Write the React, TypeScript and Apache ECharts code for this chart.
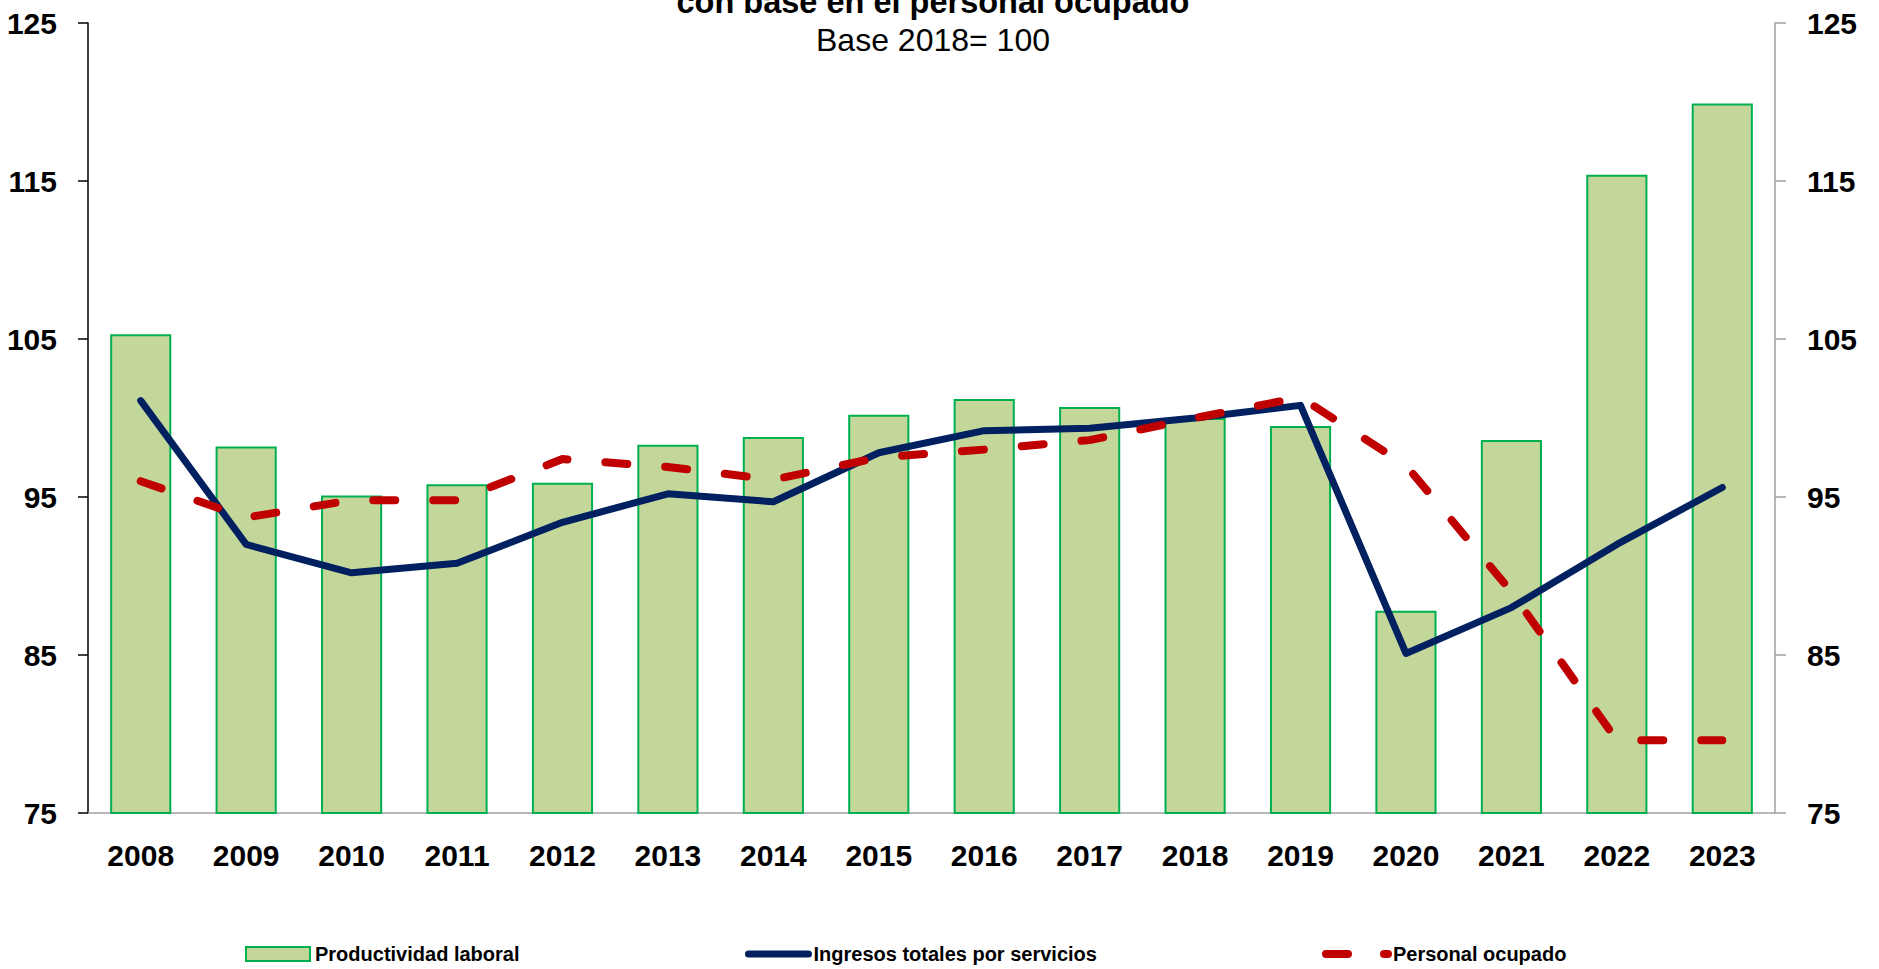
import React, { useEffect, useRef } from "react";
import * as echarts from "echarts";

const years = ["2008", "2009", "2010", "2011", "2012", "2013", "2014", "2015", "2016", "2017", "2018", "2019", "2020", "2021", "2022", "2023"];
const productividad = [105.3, 98.2, 95.1, 95.8, 95.9, 98.3, 98.8, 100.2, 101.2, 100.7, 100.0, 99.5, 87.8, 98.6, 115.4, 119.9];
const ingresos = [101.1, 92.0, 90.2, 90.8, 93.4, 95.2, 94.7, 97.8, 99.2, 99.35, 100.0, 100.8, 85.1, 88.0, 92.0, 95.6];
const personal = [96.0, 93.7, 94.8, 94.8, 97.4, 96.9, 96.1, 97.5, 98.0, 98.6, 100.0, 101.3, 97.0, 89.0, 79.6, 79.6];
const yTicks = { min: 75, max: 125, interval: 10 };

const titleText = "con base en el personal ocupado";
const subtitleText = "Base 2018= 100";
const seriesNames = ["Productividad laboral", "Ingresos totales por servicios", "Personal ocupado"];

const FONT = "'Liberation Sans', Arial, sans-serif";

export default function App() {
  const ref = useRef<HTMLDivElement>(null);
  useEffect(() => {
    if (!ref.current) return;
    const chart = echarts.init(ref.current, undefined, { renderer: "svg" });
    const axisLabel = { fontFamily: FONT, fontWeight: "bold" as const, fontSize: 30, color: "#000" };
    const legendText = { fontFamily: FONT, fontWeight: "bold" as const, fontSize: 20, color: "#000" };
    chart.setOption({
      animation: false,
      backgroundColor: "#fff",
      graphic: [
        {
          type: "text",
          x: 933,
          y: 1.8,
          style: { text: titleText, fill: "#000", font: `bold 32.5px ${FONT}`, align: "center", verticalAlign: "middle" },
        },
        {
          type: "text",
          x: 933,
          y: 40.4,
          style: { text: subtitleText, fill: "#000", font: `32px ${FONT}`, align: "center", verticalAlign: "middle" },
        },
      ],
      grid: { left: 88, right: 104, top: 23, bottom: 156, containLabel: false },
      legend: [
        {
          data: [seriesNames[0]],
          left: 245,
          top: 944,
          padding: 0,
          itemWidth: 64,
          itemHeight: 14,
          textStyle: legendText,
          icon: "rect",
          itemStyle: { borderColor: "#00B050", borderWidth: 2 },
        },
        {
          data: [seriesNames[1]],
          left: 745,
          top: 944,
          padding: 0,
          itemWidth: 60,
          itemHeight: 14,
          textStyle: legendText,
          itemStyle: { opacity: 0 },
          lineStyle: { width: 7, cap: "round", color: "#002060" },
        },
        {
          data: [seriesNames[2]],
          left: 1322,
          top: 944,
          padding: 0,
          itemWidth: 62,
          itemHeight: 14,
          textStyle: legendText,
          itemStyle: { opacity: 0 },
          lineStyle: { width: 8, cap: "round", type: [22, 36], color: "#C00000" },
        },
      ],
      xAxis: {
        type: "category",
        data: years,
        boundaryGap: true,
        axisLine: { show: true, lineStyle: { color: "#A0A0A0", width: 1.5 } },
        axisTick: { show: false },
        axisLabel: { ...axisLabel, margin: 27, interval: 0 },
        splitLine: { show: false },
      },
      yAxis: [
        {
          type: "value",
          position: "left",
          ...yTicks,
          axisLine: { show: true, lineStyle: { color: "#000", width: 1.5 } },
          axisTick: { show: true, length: 10, inside: false, lineStyle: { color: "#000", width: 1.5 } },
          axisLabel: { ...axisLabel, margin: 31 },
          splitLine: { show: false },
        },
        {
          type: "value",
          position: "right",
          ...yTicks,
          axisLine: { show: true, lineStyle: { color: "#A0A0A0", width: 1.5 } },
          axisTick: { show: true, length: 11, inside: false, lineStyle: { color: "#A0A0A0", width: 1.5 } },
          axisLabel: { ...axisLabel, margin: 32 },
          splitLine: { show: false },
        },
      ],
      series: [
        {
          name: seriesNames[0],
          type: "bar",
          data: productividad,
          barWidth: "58%",
          itemStyle: { color: "#C4D79B", borderColor: "#00B050", borderWidth: 2 },
        },
        {
          name: seriesNames[1],
          type: "line",
          data: ingresos,
          symbol: "none",
          lineStyle: { color: "#002060", width: 7, join: "round", cap: "round" },
          itemStyle: { color: "#002060" },
          z: 3,
        },
        {
          name: seriesNames[2],
          type: "line",
          data: personal,
          symbol: "none",
          lineStyle: { color: "#C00000", width: 8, type: [22, 38], cap: "round", join: "round" },
          itemStyle: { color: "#C00000" },
          z: 4,
        },
      ],
    });
    return () => chart.dispose();
  }, []);
  return <div ref={ref} style={{ position: "fixed", left: 0, top: 0, width: 1879, height: 969 }} />;
}
